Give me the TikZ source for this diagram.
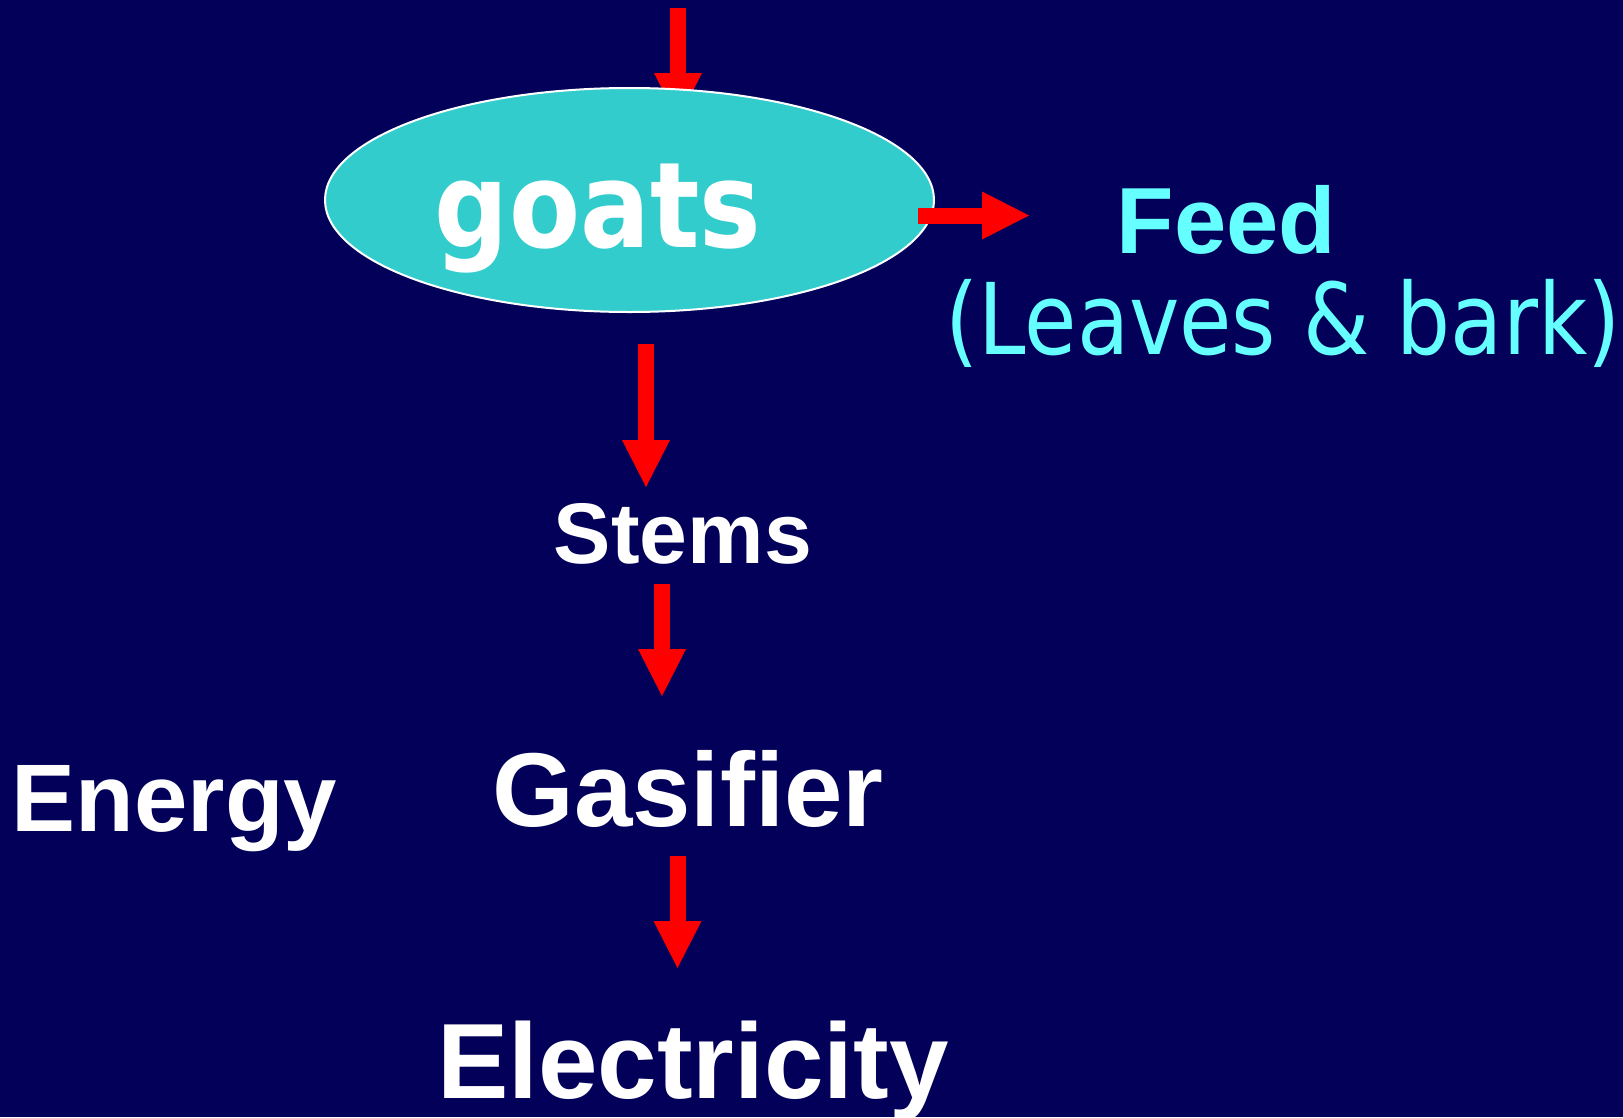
\documentclass[tikz,border=0pt]{standalone}
\usepackage{fontspec}
\usetikzlibrary{shapes.geometric,arrows.meta}
\newfontfamily\arialfont{Liberation Sans}
\newfontfamily\tahbold[FakeStretch=0.87]{DejaVu Sans Bold}
\newfontfamily\tahfont[FakeStretch=0.86]{DejaVu Sans}
\definecolor{bgnavy}{RGB}{3,0,90}
\definecolor{goatfill}{RGB}{51,204,204}
\definecolor{feedcyan}{RGB}{102,255,255}
\definecolor{arrred}{RGB}{255,0,0}
\begin{document}
\begin{tikzpicture}[x=1pt,y=-1pt,
  blockarrow/.style={draw=arrred,line width=16pt,line cap=butt,
    -{Triangle[width=48pt,length=47pt,line width=0pt,fill=arrred]}},
  lbl/.style={inner sep=0pt,outer sep=0pt,anchor=base,text=white}]
\useasboundingbox (0,0) rectangle (1623,1117);
\fill[bgnavy] (0,0) rectangle (1623,1117);
% top incoming arrow (behind ellipse)
\coordinate (inStart) at (678,8);
\coordinate (inEnd) at (678,120);
\draw[blockarrow] (inStart) -- (inEnd);
% ellipse
\node[ellipse,draw=white,line width=2pt,fill=goatfill,
  minimum width=609pt,minimum height=224pt,inner sep=0pt] (goatsE) at (629.5,200) {};
\node[lbl,font=\tahbold\fontsize{119}{119}\selectfont] (goats) at (598,247) {goats};
% feed
\node[lbl,text=feedcyan,font=\arialfont\bfseries\fontsize{94}{94}\selectfont] (feed) at (1226.5,253) {Feed};
\node[lbl,text=feedcyan,font=\tahfont\fontsize{99}{99}\selectfont] (leaves) at (1283,354) {(Leaves \& bark)};
\coordinate (feedStart) at (918,215.5);
\coordinate (feedEnd) at (1029,215.5);
\draw[blockarrow] (feedStart) -- (feedEnd);
% stems, gasifier, energy, electricity
\node[lbl,font=\arialfont\bfseries\fontsize{86}{86}\selectfont] (stems) at (683,563) {Stems};
\node[lbl,font=\arialfont\bfseries\fontsize{105}{105}\selectfont] (gasifier) at (688,826) {Gasifier};
\node[lbl,font=\arialfont\bfseries\fontsize{96}{96}\selectfont] (energy) at (174.5,831) {Energy};
\node[lbl,font=\arialfont\bfseries\fontsize{107}{107}\selectfont] (electricity) at (693,1098) {Electricity};
% arrows
\coordinate (a2s) at (646,344);
\coordinate (a2e) at (646,487);
\draw[blockarrow] (a2s) -- (a2e);
\coordinate (a3s) at (662,584);
\coordinate (a3e) at (662,696);
\draw[blockarrow] (a3s) -- (a3e);
\coordinate (a4s) at (677.5,856);
\coordinate (a4e) at (677.5,968);
\draw[blockarrow] (a4s) -- (a4e);
\end{tikzpicture}
\end{document}
